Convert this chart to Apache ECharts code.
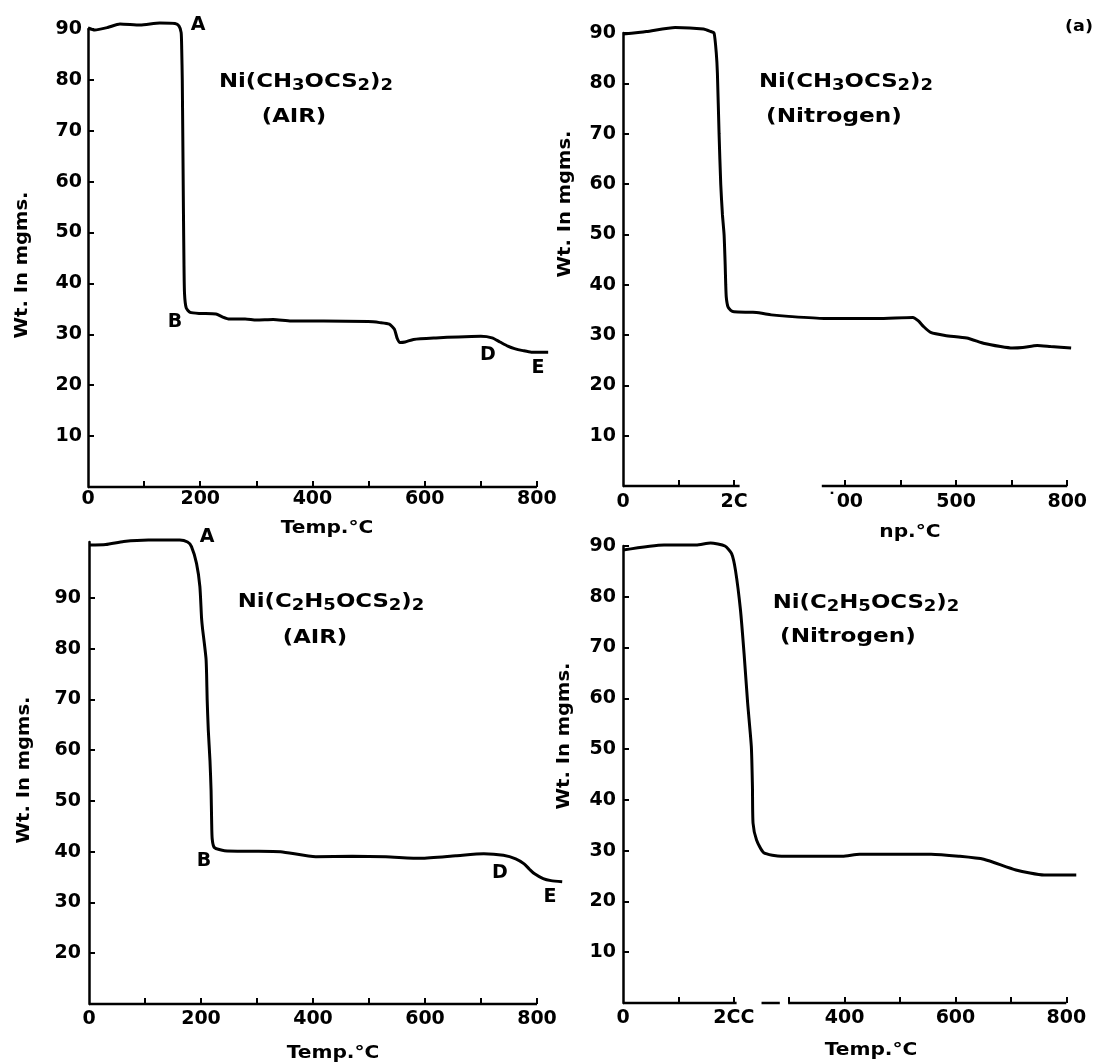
<!DOCTYPE html>
<html>
<head>
<meta charset="utf-8">
<script src="https://cdn.jsdelivr.net/npm/echarts@6/dist/echarts.min.js"></script>
<style>
html,body{margin:0;padding:0;background:#fff;}
#chart{width:1097px;height:1063px;}
</style>
</head>
<body>
<div id="chart"></div>
<script>
// ---------- DATA ----------
// Panel 1: Ni(CH3OCS2)2 in air
const airMeTemp = [0, 12, 35, 57, 93, 128, 155, 162, 166, 167, 168, 169, 170, 171, 172, 175, 182, 200, 228, 240, 252, 280, 300, 330, 362, 420, 499, 520, 537, 546, 551, 556, 565, 580, 620, 660, 700, 720, 734, 748, 760, 775, 790, 820];
const airMeWt   = [90.2, 89.8, 90.3, 91, 90.8, 91.2, 91.1, 90.6, 89.3, 86, 80, 68, 55, 44, 38, 35.2, 34.3, 34.1, 34, 33.4, 33, 33, 32.8, 32.9, 32.6, 32.6, 32.5, 32.3, 32, 31, 29.2, 28.4, 28.5, 29, 29.3, 29.5, 29.6, 29.3, 28.5, 27.7, 27.2, 26.8, 26.5, 26.5];

// Panel 2: Ni(CH3OCS2)2 in nitrogen
const nitMeTemp = [0, 42, 94, 145, 158, 164, 168, 170, 173, 176, 179, 182, 184, 185, 186, 189, 194, 200, 234, 250, 267, 298, 362, 458, 522, 532, 541, 554, 580, 619, 651, 680, 701, 720, 746, 770, 807];
const nitMeWt   = [89.8, 90.3, 91.1, 90.8, 90.3, 90, 86, 82, 70, 60, 54, 50, 44, 40, 37.5, 35.6, 34.9, 34.6, 34.5, 34.3, 34, 33.7, 33.3, 33.3, 33.5, 32.8, 31.7, 30.5, 29.9, 29.4, 28.3, 27.7, 27.4, 27.5, 27.9, 27.7, 27.4];

// Panel 3: Ni(C2H5OCS2)2 in air
const airEtTemp = [0, 30, 62, 106, 162, 176, 183, 192, 198, 201, 203, 206, 209, 210, 211, 213, 216, 218, 219, 220, 224, 242, 290, 342, 405, 470, 530, 593, 655, 705, 740, 762, 777, 787, 795, 811, 825, 845];
const airEtWt   = [100.4, 100.5, 101.1, 101.4, 101.4, 101, 100.1, 96.8, 92.2, 86, 83.7, 81, 78, 75, 70, 64, 58, 52, 46, 42.5, 40.8, 40.2, 40.1, 40, 39, 39.1, 39, 38.7, 39.2, 39.6, 39.3, 38.6, 37.6, 36.5, 35.7, 34.7, 34.3, 34.1];

// Panel 4: Ni(C2H5OCS2)2 in nitrogen
const nitEtTemp = [0, 74, 132, 158, 184, 196, 203, 212, 218.5, 225, 231.6, 233.6, 234.7, 241, 254, 286, 396, 427, 556, 606, 651, 709, 760, 818];
const nitEtWt   = [89.2, 90.2, 90.2, 90.6, 90, 88.5, 85.2, 77.4, 68.8, 59, 50.5, 42.6, 35.4, 32.1, 29.6, 28.9, 28.9, 29.3, 29.3, 28.9, 28.3, 26.2, 25.2, 25.2];

// Tick values and labels
const tempLabelValues = [0, 200, 400, 600, 800];
const tempLabelsStd   = ['0', '200', '400', '600', '800'];
const tempLabelsP2    = ['0', '2C', '˙00', '500', '800'];
const tempLabelsP4    = ['0', '2CC', '400', '600', '800'];
const tempTicksAll    = [100, 200, 300, 400, 500, 600, 700, 800];
const tempTicksP2     = [100, 200, 400, 500, 600, 700, 800];
const wtLabelValues   = [10, 20, 30, 40, 50, 60, 70, 80, 90];
const wtLabelValuesP3 = [20, 30, 40, 50, 60, 70, 80, 90];
// drawn pieces of the temperature axis lines (panels 2 and 4 are broken in the print)
const axisPiecesP1 = [[0, 800]];
const axisPiecesP2 = [[0, 210], [358, 800]];
const axisPiecesP3 = [[0, 800]];
const axisPiecesP4 = [[0, 205], [250, 283], [298, 800]];

// ---------- CHART ----------
const FONT = 'DejaVu Sans';
const X_MAX = 850; // room for the curves running past the 800 tick
const zip = (a, b) => a.map((v, i) => [v, b[i]]);

const grids = [
  {left: 88, top: 29, width: 477, height: 458},
  {left: 623, top: 33, width: 472, height: 453},
  {left: 89, top: 542, width: 476, height: 462},
  {left: 623, top: 546, width: 471, height: 457}
];

function xAxisCfg(i, labels, ticks, margin) {
  return {
    type: 'value', gridIndex: i, min: 0, max: X_MAX, interval: 50,
    axisLine: {show: false, onZero: false},
    axisTick: {show: true, inside: true, length: 6, customValues: ticks, lineStyle: {color: '#000', width: 2}},
    axisLabel: {
      customValues: tempLabelValues,
      formatter: v => { const k = tempLabelValues.indexOf(v); return k < 0 ? '' : labels[k]; },
      fontFamily: FONT, fontWeight: 'bold', fontSize: 19, color: '#000', margin: margin
    },
    splitLine: {show: false}
  };
}
function yAxisCfg(i, min, max, labelVals, margin) {
  return {
    type: 'value', gridIndex: i, min: min, max: max, interval: 10,
    axisLine: {show: true, onZero: false, lineStyle: {color: '#000', width: 2.5}},
    axisTick: {show: true, inside: true, length: 6, customValues: labelVals, lineStyle: {color: '#000', width: 2}},
    axisLabel: {
      customValues: labelVals,
      formatter: v => (labelVals.indexOf(v) < 0 ? '' : String(v)),
      fontFamily: FONT, fontWeight: 'bold', fontSize: 19, color: '#000', margin: margin
    },
    splitLine: {show: false}
  };
}

function curve(i, t, w) {
  return {
    type: 'line', xAxisIndex: i, yAxisIndex: i, data: zip(t, w),
    symbol: 'none', smooth: 0.2, clip: false,
    lineStyle: {color: '#000', width: 3}, z: 3
  };
}
function axisPieces(i, pieces, base) {
  return pieces.map(p => ({
    type: 'line', xAxisIndex: i, yAxisIndex: i,
    data: [[p[0], base], [p[1], base]],
    symbol: 'none', clip: false, lineStyle: {color: '#000', width: 2.5}, z: 2
  }));
}

const subRich = {
  m: {fontFamily: FONT, fontWeight: 'bold', fontSize: 19, lineHeight: 24, fill: '#000'},
  s: {fontFamily: FONT, fontWeight: 'bold', fontSize: 15, lineHeight: 14, verticalAlign: 'bottom', fill: '#000'}
};
function formula(x, y, text) {
  return {type: 'text', x: x, y: y, scaleX: 1.2,
    style: {text: text, rich: subRich, textAlign: 'center', textVerticalAlign: 'middle', fill: '#000',
            font: 'bold 19px "DejaVu Sans"'}};
}
function txt(x, y, text, size, sx, rot) {
  return {type: 'text', x: x, y: y, scaleX: sx || 1, rotation: rot || 0,
    style: {text: text, font: 'bold ' + size + 'px "DejaVu Sans"', fill: '#000',
            textAlign: 'center', textVerticalAlign: 'middle'}};
}
const V = Math.PI / 2;

const graphic = [
  // panel 1
  formula(306, 82, '{m|Ni(CH}{s|3}{m|OCS}{s|2}{m|)}{s|2}'),
  txt(294, 117, '(AIR)', 19, 1.2),
  txt(198, 25, 'A', 19), txt(175, 322, 'B', 19), txt(488, 355, 'D', 19), txt(538, 368, 'E', 19),
  txt(23, 265, 'Wt. In mgms.', 17, 1.15, V),
  txt(327, 528, 'Temp.°C', 18, 1.12),
  // panel 2
  txt(1079, 27, '(a)', 16, 1.1),
  formula(846, 82, '{m|Ni(CH}{s|3}{m|OCS}{s|2}{m|)}{s|2}'),
  txt(834, 117, '(Nitrogen)', 19, 1.22),
  txt(566, 204, 'Wt. In mgms.', 17, 1.15, V),
  txt(910, 532, 'np.°C', 18, 1.12),
  // panel 3
  formula(331, 602, '{m|Ni(C}{s|2}{m|H}{s|5}{m|OCS}{s|2}{m|)}{s|2}'),
  txt(315, 638, '(AIR)', 19, 1.2),
  txt(207, 537, 'A', 19), txt(204, 861, 'B', 19), txt(500, 873, 'D', 19), txt(550, 897, 'E', 19),
  txt(25, 770, 'Wt. In mgms.', 17, 1.15, V),
  txt(333, 1053, 'Temp.°C', 18, 1.12),
  // panel 4
  formula(866, 603, '{m|Ni(C}{s|2}{m|H}{s|5}{m|OCS}{s|2}{m|)}{s|2}'),
  txt(848, 637, '(Nitrogen)', 19, 1.22),
  txt(565, 736, 'Wt. In mgms.', 17, 1.15, V),
  txt(871, 1050, 'Temp.°C', 18, 1.12)
];

const option = {
  animation: false,
  backgroundColor: '#fff',
  grid: grids,
  xAxis: [
    xAxisCfg(0, tempLabelsStd, tempTicksAll, 3),
    xAxisCfg(1, tempLabelsP2, tempTicksP2, 7),
    xAxisCfg(2, tempLabelsStd, tempTicksAll, 6),
    xAxisCfg(3, tempLabelsP4, tempTicksAll, 6)
  ],
  yAxis: [
    yAxisCfg(0, 0, 90, wtLabelValues, 6),
    yAxisCfg(1, 0, 90, wtLabelValues, 7),
    yAxisCfg(2, 10, 101, wtLabelValuesP3, 8),
    yAxisCfg(3, 0, 90, wtLabelValues, 7)
  ],
  series: [
    curve(0, airMeTemp, airMeWt),
    curve(1, nitMeTemp, nitMeWt),
    curve(2, airEtTemp, airEtWt),
    curve(3, nitEtTemp, nitEtWt)
  ].concat(
    axisPieces(0, axisPiecesP1, 0),
    axisPieces(1, axisPiecesP2, 0),
    axisPieces(2, axisPiecesP3, 10),
    axisPieces(3, axisPiecesP4, 0)
  ),
  graphic: graphic
};

const chart = echarts.init(document.getElementById('chart'), null, {renderer: 'canvas'});
chart.setOption(option);
</script>
</body>
</html>
